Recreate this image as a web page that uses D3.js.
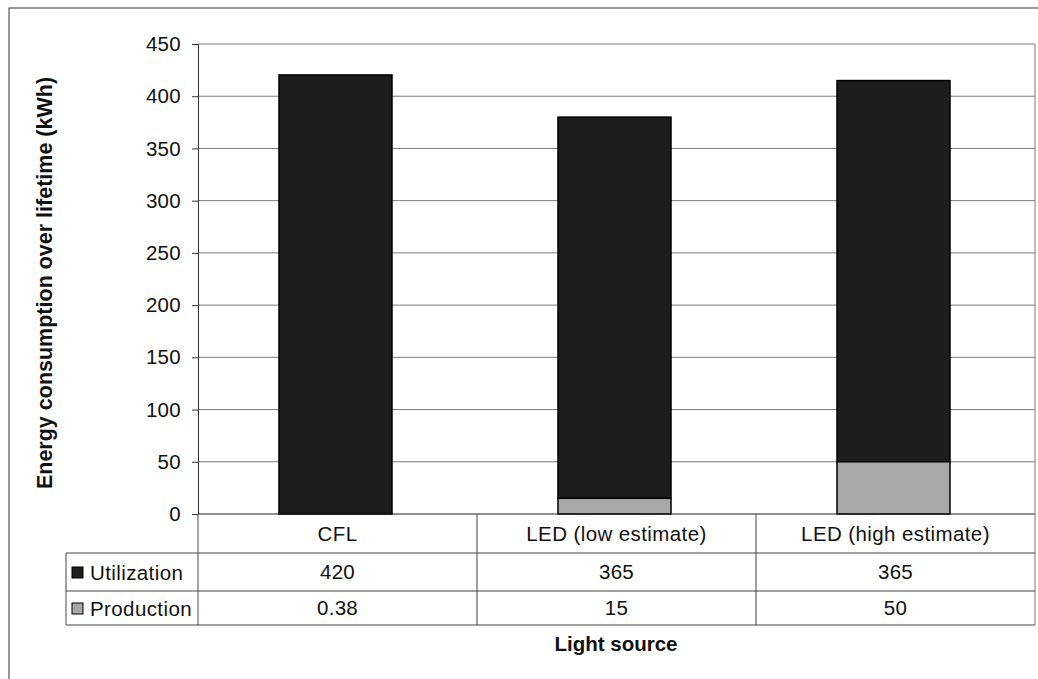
<!DOCTYPE html>
<html>
<head>
<meta charset="utf-8">
<script src="https://cdn.jsdelivr.net/npm/d3@7"></script>
<style>
  body { margin: 0; background: #fff; }
  svg text { font-family: "Liberation Sans", Arial, sans-serif; fill: #111; }
</style>
</head>
<body>
<svg id="chart" width="1038" height="679"></svg>
<script>
// Chart data
const categories = ["CFL", "LED (low estimate)", "LED (high estimate)"];
const utilization = [420, 365, 365];
const production = [0.38, 15, 50];
const productionLabels = ["0.38", "15", "50"];
const yTicks = [0, 50, 100, 150, 200, 250, 300, 350, 400, 450];

const svg = d3.select("#chart");

// layout
const plotLeft = 198, plotRight = 1035, plotTop = 44, plotBottom = 514;
const tableLeft = 66;
const rowTops = [514, 553, 591, 625];
const fontSize = "20.5px";

const x = d3.scaleBand().domain(categories).range([plotLeft, plotRight]).padding(0);
const y = d3.scaleLinear().domain([0, 450]).range([plotBottom, plotTop]);

const barW = x.bandwidth() * 0.405;
const gridColor = "#7a7a7a";

// outer frame
svg.append("rect")
  .attr("x", 9).attr("y", 8)
  .attr("width", 1040).attr("height", 690)
  .attr("fill", "none").attr("stroke", "#555").attr("stroke-width", 1.2);

// gridlines
svg.append("g")
  .selectAll("line")
  .data(yTicks.filter(d => d > 0))
  .join("line")
  .attr("x1", plotLeft).attr("x2", plotRight)
  .attr("y1", d => y(d)).attr("y2", d => y(d))
  .attr("stroke", gridColor).attr("stroke-width", 1);

// y axis
const yAxis = svg.append("g")
  .attr("transform", `translate(${plotLeft},0)`)
  .call(d3.axisLeft(y).tickValues(yTicks).tickSize(6).tickPadding(11));
yAxis.select(".domain").attr("stroke", "#333");
yAxis.selectAll(".tick line").attr("stroke", "#333");
yAxis.selectAll("text")
  .style("font-size", fontSize).style("font-family", "Liberation Sans, Arial, sans-serif")
  .style("letter-spacing", "0.3px").attr("fill", "#111");

// stacked bars
const stacked = categories.map((c, i) => ({
  cat: c,
  prod: production[i],
  util: utilization[i]
}));

const bars = svg.append("g");
bars.selectAll("rect.util")
  .data(stacked)
  .join("rect")
  .attr("class", "util")
  .attr("x", d => x(d.cat) + (x.bandwidth() - barW) / 2 - 2)
  .attr("width", barW)
  .attr("y", d => y(d.prod + d.util))
  .attr("height", d => y(d.prod) - y(d.prod + d.util))
  .attr("fill", "#1d1d1d")
  .attr("stroke", "#000").attr("stroke-width", 1.5);

bars.selectAll("rect.prod")
  .data(stacked)
  .join("rect")
  .attr("class", "prod")
  .attr("x", d => x(d.cat) + (x.bandwidth() - barW) / 2 - 2)
  .attr("width", barW)
  .attr("y", d => y(d.prod))
  .attr("height", d => y(0) - y(d.prod))
  .attr("fill", "#a8a8a8")
  .attr("stroke", "#000").attr("stroke-width", 1.5);

// baseline
svg.append("line")
  .attr("x1", plotLeft).attr("x2", plotRight)
  .attr("y1", plotBottom).attr("y2", plotBottom)
  .attr("stroke", "#222").attr("stroke-width", 1.2);

// right border of plot + table
svg.append("line")
  .attr("x1", plotRight).attr("x2", plotRight)
  .attr("y1", plotTop).attr("y2", rowTops[3])
  .attr("stroke", gridColor);

// data table lines
const tbl = svg.append("g").attr("stroke", "#444").attr("stroke-width", 1);
[rowTops[1], rowTops[2], rowTops[3]].forEach(yy => {
  tbl.append("line").attr("x1", tableLeft).attr("x2", plotRight)
    .attr("y1", yy).attr("y2", yy);
});
tbl.append("line").attr("x1", tableLeft).attr("x2", tableLeft)
  .attr("y1", rowTops[1]).attr("y2", rowTops[3]);
tbl.append("line").attr("x1", plotLeft).attr("x2", plotLeft)
  .attr("y1", plotBottom).attr("y2", rowTops[3]);
tbl.selectAll("line.sep")
  .data(categories.slice(1))
  .join("line")
  .attr("class", "sep")
  .attr("x1", d => x(d)).attr("x2", d => x(d))
  .attr("y1", plotBottom).attr("y2", rowTops[3]);

// category labels
svg.append("g")
  .selectAll("text")
  .data(categories)
  .join("text")
  .attr("x", d => x(d) + x.bandwidth() / 2)
  .attr("y", (rowTops[0] + rowTops[1]) / 2 + 7)
  .attr("text-anchor", "middle")
  .style("font-size", fontSize).style("letter-spacing", "0.4px")
  .text(d => d);

// value rows
const rows = [
  { name: "Utilization", color: "#1d1d1d", values: utilization.map(String) },
  { name: "Production", color: "#a8a8a8", values: productionLabels }
];

rows.forEach((r, i) => {
  const cy = (rowTops[i + 1] + rowTops[i + 2]) / 2;
  svg.append("rect")
    .attr("x", 72).attr("y", cy - 5)
    .attr("width", 11).attr("height", 11)
    .attr("fill", r.color).attr("stroke", "#000");
  svg.append("text")
    .attr("x", 90).attr("y", cy + 8)
    .style("font-size", fontSize).style("letter-spacing", "0.4px")
    .text(r.name);
  svg.append("g")
    .selectAll("text")
    .data(categories)
    .join("text")
    .attr("x", d => x(d) + x.bandwidth() / 2)
    .attr("y", cy + 7)
    .attr("text-anchor", "middle")
    .style("font-size", fontSize).style("letter-spacing", "0.3px")
    .text((d, j) => r.values[j]);
});

// axis titles
svg.append("text")
  .attr("transform", "translate(52,283) rotate(-90)")
  .attr("text-anchor", "middle")
  .style("font-size", "21.5px").style("font-weight", "bold")
  .text("Energy consumption over lifetime (kWh)");

svg.append("text")
  .attr("x", 616).attr("y", 651)
  .attr("text-anchor", "middle")
  .style("font-size", "20.5px").style("font-weight", "bold")
  .text("Light source");
</script>
</body>
</html>
